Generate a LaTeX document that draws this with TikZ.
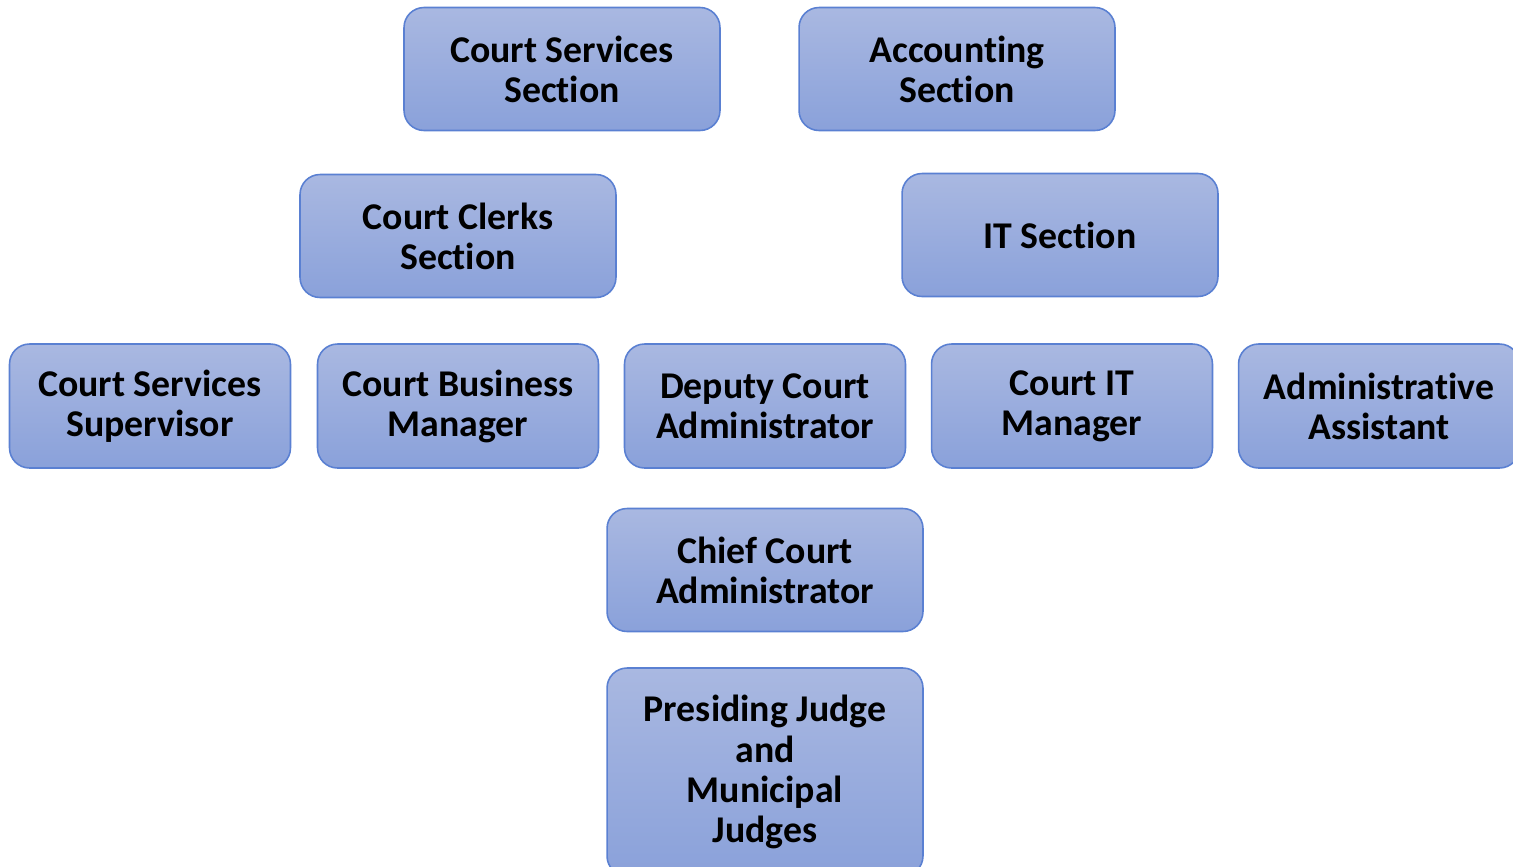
\documentclass[tikz,border=0pt]{standalone}
\usepackage{fontspec}
\setmainfont{Carlito}[Ligatures={NoCommon}]
\definecolor{boxtop}{HTML}{A9B8E1}
\definecolor{boxbottom}{HTML}{8AA1DA}
\definecolor{boxline}{HTML}{5A80D2}
\begin{document}
\begin{tikzpicture}
[
    x=0.02cm, y=-0.02cm,
    unit/.style={draw=boxline, line width=0.9pt, rounded corners=0.4cm,
        top color=boxtop, bottom color=boxbottom, align=center,
        font=\fontsize{21.5}{22.8}\selectfont\bfseries, inner sep=0pt},
    section/.style={unit, minimum width=6.32cm, minimum height=2.46cm},
    post/.style={unit, minimum width=5.62cm, minimum height=2.48cm},
]
\useasboundingbox (0,0) rectangle (1513,866);
\clip (0,0) rectangle (1513,866);
\node[section] (courtservices) at (562,69) {Court Services\\Section};
\node[section] (accounting) at (957,69) {Accounting\\Section};
\node[section] (clerks) at (458,236) {Court Clerks\\Section};
\node[section] (it) at (1060,235) {IT Section};
\node[post] (supervisor) at (150,406) {Court Services\\Supervisor};
\node[post] (business) at (458,406) {Court Business\\Manager};
\node[post] (deputy) at (765,406) {Deputy Court\\Administrator};
\node[post] (itmanager) at (1072,406) {Court IT\\Manager};
\node[post] (assistant) at (1379,406) {Administrative\\Assistant};
\node[section] (chief) at (765,570) {Chief Court\\Administrator};
\node[section, minimum height=4.16cm] (judges) at (765,772)
    {Presiding Judge\\and\\Municipal\\Judges};
\end{tikzpicture}
\end{document}
